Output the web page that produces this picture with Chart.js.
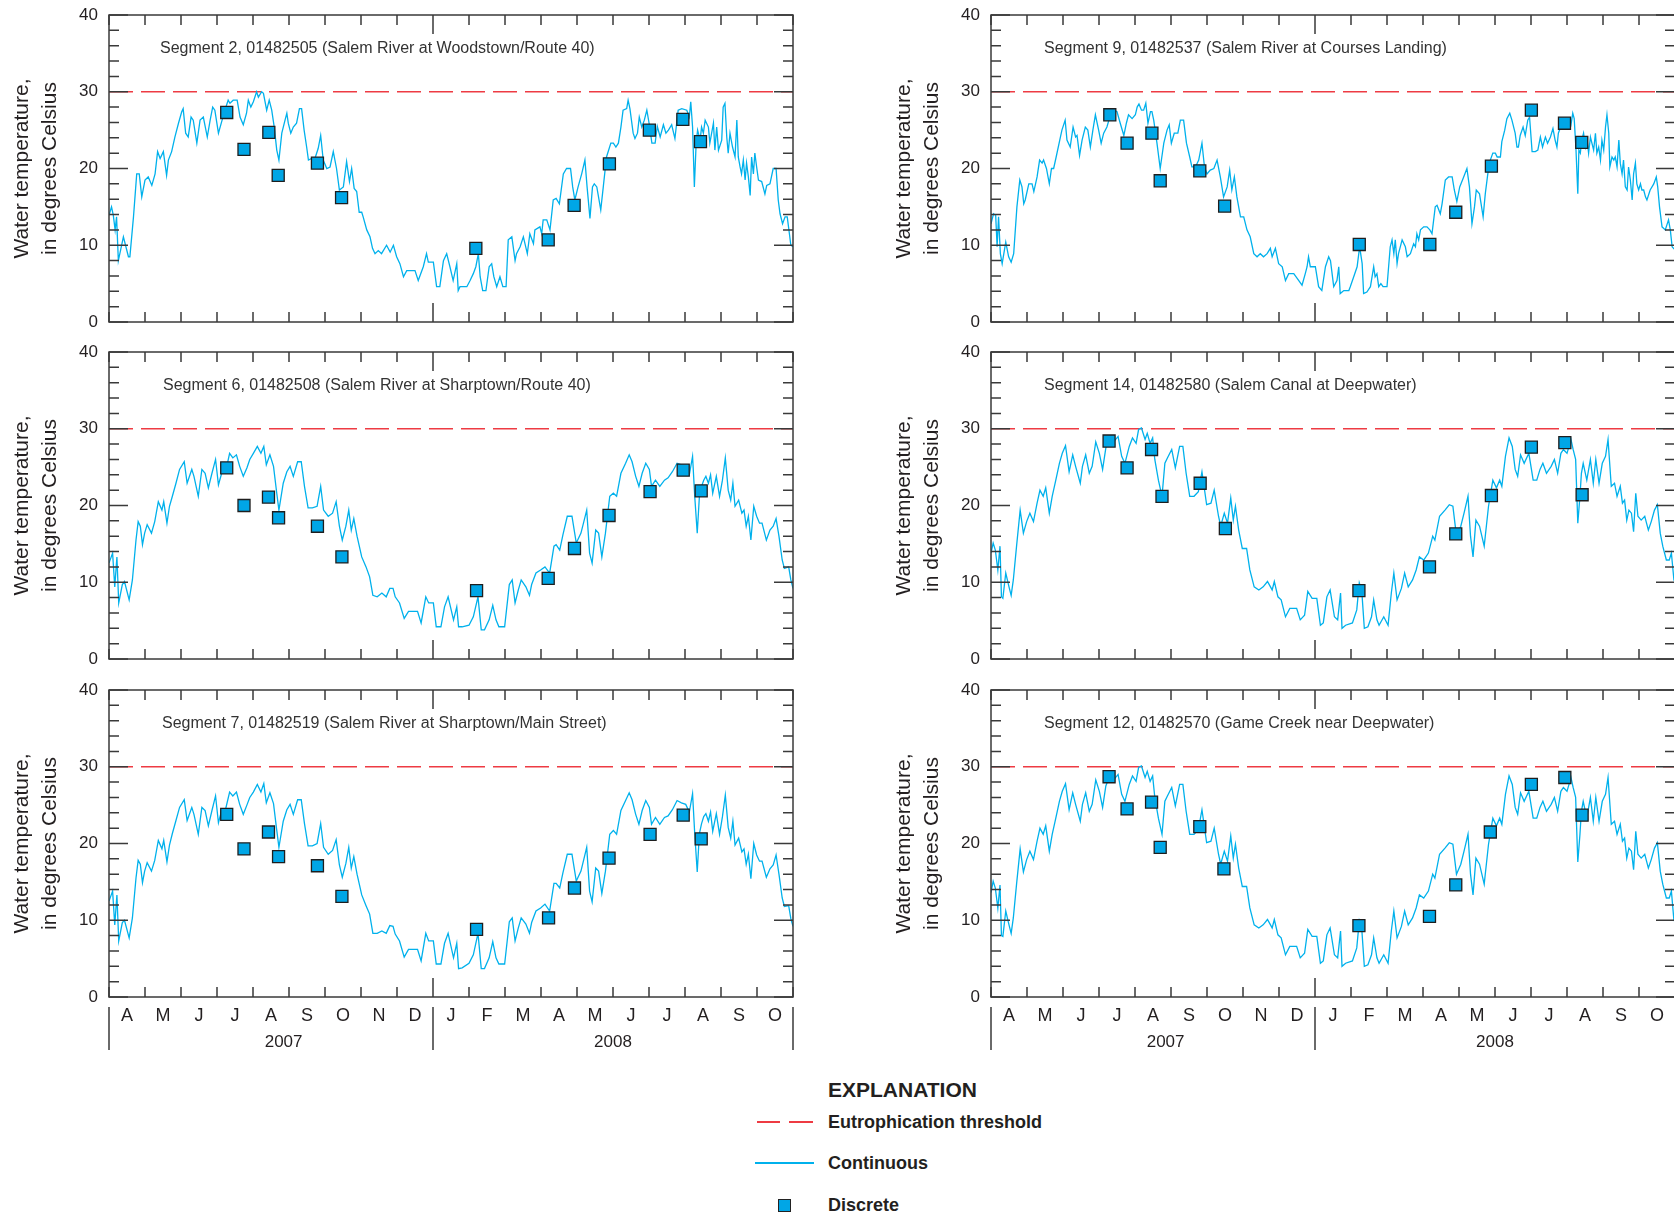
<!DOCTYPE html>
<html>
<head>
<meta charset="utf-8">
<title>Water temperature, Salem River basin</title>
<script src="https://cdn.jsdelivr.net/npm/chart.js@4/dist/chart.umd.min.js"></script>
<style>
  html, body { margin: 0; padding: 0; background: #fff; }
  body { position: relative; width: 1674px; height: 1217px; overflow: hidden; }
  canvas { position: absolute; }
  .lg { position: absolute; font-family: "Liberation Sans", Arial, sans-serif; font-weight: bold;
        color: #231f20; white-space: nowrap; height: 30px; line-height: 30px; }
  .sw { position: absolute; }
</style>
</head>
<body>
<div class="lg" style="left:828px; top:1075px; font-size:21px;">EXPLANATION</div>
<div class="sw" style="left:757px; top:1121px; width:23px; height:1.5px; background:#ee3b43;"></div>
<div class="sw" style="left:789px; top:1121px; width:24px; height:1.5px; background:#ee3b43;"></div>
<div class="lg" style="left:828px; top:1107px; font-size:18px;">Eutrophication threshold</div>
<div class="sw" style="left:755px; top:1162px; width:59px; height:1.5px; background:#00b1ec;"></div>
<div class="lg" style="left:828px; top:1148px; font-size:18px;">Continuous</div>
<div class="sw" style="left:778px; top:1199px; width:11px; height:11px; background:#00a6e6; border:1px solid #222;"></div>
<div class="lg" style="left:828px; top:1190px; font-size:18px;">Discrete</div>

<script>
// x values are months counted from 1 April 2007 (0) to 1 November 2008 (19)
const monthLabels = ['A','M','J','J','A','S','O','N','D','J','F','M','A','M','J','J','A','S','O'];
const yearLabels = ['2007', '2008'];
const yearCenters = [4.85, 14.0];
const yearBreaks = [0, 9, 19];
const eutrophicationThreshold = 30;

// Continuous record, [month, degrees Celsius]
const seg2Series = [[0,13.9],[0.07,15.0],[0.12,13.9],[0.17,12.0],[0.21,13.7],[0.26,8.0],[0.40,11.1],[0.54,8.5],[0.58,8.5],[0.68,13.7],[0.77,19.3],[0.84,19.3],[0.91,16.3],[1.00,18.5],[1.09,18.9],[1.19,17.8],[1.28,19.3],[1.35,22.2],[1.42,21.3],[1.51,22.2],[1.60,19.1],[1.65,21.1],[1.74,22.2],[1.83,24.1],[1.93,25.9],[2.02,27.4],[2.06,27.8],[2.13,24.6],[2.20,24.1],[2.28,26.7],[2.34,26.3],[2.44,23.3],[2.53,26.3],[2.62,26.7],[2.73,24.1],[2.81,26.3],[2.88,28.0],[2.94,27.6],[3.04,24.6],[3.13,26.1],[3.22,27.6],[3.31,28.9],[3.36,28.5],[3.45,28.9],[3.56,28.9],[3.64,26.7],[3.73,25.7],[3.82,27.2],[3.87,28.9],[3.94,28.0],[4.01,28.7],[4.10,30.0],[4.15,29.3],[4.24,30.0],[4.29,29.8],[4.38,27.6],[4.45,28.9],[4.52,27.6],[4.59,25.4],[4.66,22.4],[4.72,21.1],[4.80,24.6],[4.89,26.3],[4.94,27.2],[4.98,25.9],[5.05,24.6],[5.12,25.4],[5.21,25.9],[5.29,27.8],[5.35,27.8],[5.42,25.0],[5.49,22.8],[5.54,21.1],[5.63,21.3],[5.72,21.3],[5.81,22.6],[5.88,24.3],[5.95,21.1],[6.05,20.0],[6.14,20.2],[6.23,22.2],[6.32,20.0],[6.40,17.2],[6.51,17.6],[6.60,20.9],[6.68,18.3],[6.74,20.0],[6.81,17.4],[6.88,17.0],[6.95,14.3],[7.02,14.3],[7.06,13.7],[7.16,12.0],[7.25,11.1],[7.32,9.6],[7.39,8.9],[7.48,9.3],[7.57,8.9],[7.71,10.0],[7.81,9.1],[7.90,10.0],[7.99,8.5],[8.08,7.6],[8.18,5.9],[8.27,6.7],[8.50,6.7],[8.59,5.4],[8.73,7.2],[8.82,8.9],[8.87,7.8],[9.01,7.8],[9.10,4.6],[9.19,4.6],[9.29,8.0],[9.38,8.9],[9.47,7.2],[9.56,5.4],[9.66,7.6],[9.70,4.1],[9.75,4.6],[9.94,4.6],[10.03,5.4],[10.12,6.3],[10.19,7.2],[10.26,8.9],[10.31,5.9],[10.38,4.1],[10.47,4.1],[10.56,7.2],[10.63,7.6],[10.69,5.9],[10.77,4.6],[10.86,5.9],[10.94,4.6],[11.03,4.6],[11.09,10.7],[11.19,11.1],[11.28,8.0],[11.32,8.9],[11.42,9.8],[11.51,11.1],[11.62,8.9],[11.69,11.5],[11.79,10.2],[11.83,12.0],[11.97,12.4],[12.02,11.5],[12.06,13.3],[12.16,13.3],[12.25,12.0],[12.34,15.9],[12.42,16.1],[12.51,15.4],[12.62,19.3],[12.71,20.0],[12.82,20.0],[12.88,17.6],[12.94,15.9],[13.03,17.6],[13.13,19.3],[13.22,21.1],[13.28,17.6],[13.36,13.5],[13.43,17.6],[13.48,18.0],[13.55,17.6],[13.66,14.6],[13.73,17.6],[13.82,21.5],[13.94,23.3],[14.01,23.3],[14.08,22.8],[14.15,23.3],[14.22,25.4],[14.28,27.6],[14.38,27.8],[14.42,28.9],[14.47,27.8],[14.56,24.6],[14.61,23.9],[14.68,24.6],[14.73,26.7],[14.80,25.4],[14.87,26.3],[14.94,27.6],[15.01,25.7],[15.08,23.3],[15.17,23.3],[15.23,25.5],[15.31,24.1],[15.40,25.7],[15.47,24.6],[15.54,25.0],[15.63,25.7],[15.72,23.9],[15.81,27.6],[15.91,27.8],[16.05,27.6],[16.12,26.7],[16.16,28.7],[16.21,25.4],[16.26,17.6],[16.31,23.3],[16.35,25.0],[16.42,23.7],[16.46,25.4],[16.51,24.6],[16.56,26.3],[16.65,25.4],[16.69,23.3],[16.79,25.9],[16.83,22.4],[16.88,25.4],[16.93,22.4],[17.02,23.7],[17.06,28.0],[17.11,28.5],[17.16,24.1],[17.20,22.0],[17.25,24.6],[17.32,22.8],[17.39,21.5],[17.44,26.3],[17.48,21.5],[17.53,20.2],[17.57,19.3],[17.62,21.1],[17.67,18.5],[17.71,20.7],[17.76,18.9],[17.81,16.5],[17.85,21.5],[17.90,19.3],[17.94,22.0],[17.99,20.2],[18.04,18.5],[18.13,18.3],[18.22,16.7],[18.27,17.8],[18.36,18.0],[18.45,20.0],[18.53,20.0],[18.59,15.9],[18.64,14.1],[18.71,12.8],[18.78,13.7],[18.84,13.7],[18.90,11.5],[18.94,10.0],[19.0,9.8]];

const seg9Series = [[0,12.8],[0.07,14.1],[0.13,13.9],[0.17,9.8],[0.21,13.7],[0.26,8.9],[0.31,7.6],[0.41,10.4],[0.49,8.5],[0.56,7.8],[0.63,8.9],[0.72,15.0],[0.80,18.5],[0.86,17.6],[0.91,15.4],[0.95,15.9],[1.05,18.0],[1.14,18.0],[1.19,17.0],[1.28,18.9],[1.35,21.1],[1.42,20.7],[1.46,21.1],[1.54,20.0],[1.62,18.0],[1.68,20.0],[1.74,20.0],[1.81,21.5],[1.91,23.7],[1.97,25.0],[2.06,26.3],[2.11,23.7],[2.20,22.8],[2.28,25.4],[2.35,24.1],[2.39,24.3],[2.46,21.7],[2.53,23.7],[2.62,25.4],[2.69,25.0],[2.76,22.8],[2.83,25.0],[2.90,27.0],[2.99,25.0],[3.06,23.3],[3.13,24.6],[3.22,25.4],[3.30,26.7],[3.41,27.6],[3.50,27.4],[3.59,25.9],[3.69,24.3],[3.76,25.9],[3.82,27.0],[3.92,26.5],[4.01,27.0],[4.06,28.0],[4.11,28.4],[4.18,27.6],[4.24,27.6],[4.30,28.5],[4.36,25.9],[4.43,27.4],[4.47,27.4],[4.52,26.3],[4.61,23.3],[4.70,20.0],[4.80,23.3],[4.89,25.0],[4.95,25.7],[5.01,23.3],[5.09,24.6],[5.19,24.6],[5.26,26.3],[5.35,26.3],[5.43,23.3],[5.52,21.5],[5.58,20.2],[5.68,20.2],[5.77,21.1],[5.86,23.3],[5.93,20.2],[6.00,19.3],[6.09,19.8],[6.19,20.0],[6.28,21.1],[6.37,18.9],[6.46,16.3],[6.56,17.6],[6.63,19.8],[6.69,17.2],[6.76,18.9],[6.83,16.3],[6.93,13.7],[7.02,13.7],[7.11,12.0],[7.20,11.1],[7.30,8.9],[7.39,8.5],[7.48,8.9],[7.57,8.5],[7.67,8.9],[7.76,9.6],[7.81,8.5],[7.90,9.6],[7.99,7.6],[8.09,7.2],[8.18,5.4],[8.27,6.3],[8.41,6.3],[8.55,5.4],[8.64,4.8],[8.73,6.3],[8.78,7.2],[8.82,8.5],[8.87,7.2],[9.01,7.2],[9.10,4.6],[9.19,4.1],[9.29,7.2],[9.38,8.5],[9.43,8.0],[9.52,4.6],[9.61,5.4],[9.66,7.2],[9.70,3.7],[9.80,4.1],[9.94,4.1],[9.98,4.6],[10.09,6.1],[10.17,7.2],[10.24,9.8],[10.31,7.6],[10.35,3.7],[10.44,3.9],[10.54,4.6],[10.63,7.2],[10.67,5.9],[10.72,6.3],[10.77,4.6],[10.83,5.0],[10.89,4.6],[11.00,4.6],[11.09,9.8],[11.14,10.7],[11.19,8.9],[11.23,10.7],[11.28,7.6],[11.32,8.9],[11.42,10.7],[11.51,9.8],[11.56,8.5],[11.65,8.9],[11.74,10.2],[11.79,9.8],[11.83,11.5],[11.88,10.7],[11.93,12.0],[12.02,12.4],[12.11,12.4],[12.19,12.0],[12.25,11.5],[12.34,15.0],[12.39,15.2],[12.48,14.1],[12.53,15.4],[12.62,18.5],[12.71,18.9],[12.81,18.9],[12.87,17.2],[12.94,15.7],[13.02,17.6],[13.13,18.9],[13.22,20.0],[13.29,17.6],[13.36,12.8],[13.43,15.0],[13.48,17.2],[13.57,16.7],[13.67,13.7],[13.73,16.7],[13.80,19.3],[13.87,21.1],[13.94,22.0],[14.01,22.0],[14.06,21.5],[14.15,21.5],[14.19,23.5],[14.27,25.0],[14.33,26.5],[14.41,27.2],[14.47,26.3],[14.56,24.6],[14.61,22.8],[14.65,22.8],[14.70,24.3],[14.78,25.4],[14.84,24.3],[14.91,26.3],[14.96,26.7],[15.03,22.2],[15.12,22.2],[15.19,22.4],[15.26,24.1],[15.32,22.8],[15.40,24.1],[15.46,23.3],[15.54,24.1],[15.61,25.2],[15.67,23.7],[15.72,22.8],[15.76,24.6],[15.86,25.9],[15.95,26.5],[16.05,26.3],[16.11,25.7],[16.16,27.2],[16.20,26.5],[16.25,22.4],[16.30,16.7],[16.33,22.4],[16.37,22.0],[16.41,23.7],[16.46,24.6],[16.51,22.8],[16.56,23.7],[16.60,22.0],[16.65,24.1],[16.74,22.4],[16.79,24.6],[16.83,22.0],[16.88,22.8],[16.93,21.1],[16.97,23.7],[17.02,22.4],[17.07,25.4],[17.11,27.0],[17.16,24.6],[17.19,20.2],[17.25,21.5],[17.30,21.1],[17.34,21.5],[17.39,20.2],[17.44,23.7],[17.48,20.7],[17.53,19.3],[17.57,21.1],[17.62,17.6],[17.67,17.2],[17.71,20.2],[17.76,18.5],[17.81,15.9],[17.85,19.3],[17.90,20.7],[17.94,18.0],[17.99,17.2],[18.04,18.0],[18.08,17.2],[18.13,17.2],[18.18,16.3],[18.22,15.9],[18.31,17.2],[18.41,18.0],[18.48,18.9],[18.52,17.6],[18.57,15.0],[18.64,12.4],[18.73,12.0],[18.82,13.3],[18.87,12.0],[18.92,9.8],[18.96,9.6],[19.0,9.4]];

const seg6Series = [[0,12.5],[0.10,13.8],[0.16,9.4],[0.22,13.3],[0.27,7.3],[0.37,9.7],[0.43,10.1],[0.56,7.7],[0.65,10.3],[0.75,15.5],[0.81,17.9],[0.87,17.3],[0.93,14.9],[0.99,16.4],[1.06,17.5],[1.18,16.4],[1.27,17.9],[1.37,20.5],[1.47,19.4],[1.52,20.5],[1.61,17.7],[1.68,19.9],[1.76,21.2],[1.86,22.9],[1.96,24.7],[2.09,25.7],[2.17,22.9],[2.30,24.7],[2.36,23.8],[2.48,21.2],[2.58,24.7],[2.67,24.2],[2.76,22.3],[2.86,24.2],[2.96,26.0],[3.04,22.7],[3.13,24.2],[3.23,24.2],[3.35,26.8],[3.44,26.2],[3.54,26.6],[3.63,25.1],[3.73,23.8],[3.83,24.9],[3.91,26.0],[4.01,26.8],[4.12,27.7],[4.22,26.8],[4.30,27.7],[4.37,25.3],[4.47,26.6],[4.57,25.1],[4.66,21.6],[4.72,19.4],[4.84,22.9],[4.94,24.4],[5.03,25.1],[5.12,23.8],[5.24,25.7],[5.34,25.7],[5.43,22.5],[5.53,19.7],[5.65,19.7],[5.78,19.9],[5.88,22.5],[5.96,19.4],[6.09,18.6],[6.21,19.0],[6.31,20.5],[6.40,17.3],[6.48,15.5],[6.58,17.3],[6.66,19.4],[6.73,16.8],[6.80,18.3],[6.89,16.0],[7.02,13.3],[7.14,12.0],[7.24,10.7],[7.33,8.3],[7.45,8.1],[7.58,8.6],[7.70,8.1],[7.80,9.2],[7.89,9.2],[7.95,8.1],[8.07,7.3],[8.20,5.3],[8.32,6.2],[8.57,6.2],[8.67,4.7],[8.80,8.1],[8.88,7.3],[9.01,7.3],[9.09,4.2],[9.22,4.2],[9.32,6.8],[9.42,8.1],[9.57,5.1],[9.66,6.8],[9.71,4.2],[9.81,4.2],[10.00,4.4],[10.12,5.5],[10.25,8.1],[10.34,3.8],[10.43,3.8],[10.56,5.1],[10.66,7.0],[10.75,5.1],[10.83,4.2],[10.99,4.2],[11.12,9.7],[11.20,10.3],[11.28,7.3],[11.37,9.0],[11.45,10.3],[11.58,9.4],[11.68,8.3],[11.74,9.7],[11.86,11.2],[11.99,11.6],[12.11,12.0],[12.24,11.2],[12.36,14.7],[12.42,14.9],[12.52,14.2],[12.61,16.2],[12.73,18.6],[12.86,18.6],[12.98,15.1],[13.11,16.4],[13.27,19.4],[13.35,13.8],[13.42,12.5],[13.52,16.8],[13.60,16.4],[13.69,13.3],[13.79,16.4],[13.91,21.2],[14.01,21.6],[14.10,21.2],[14.22,24.2],[14.35,25.5],[14.45,26.6],[14.53,25.7],[14.63,23.8],[14.72,22.5],[14.81,24.2],[14.91,25.5],[15.01,24.7],[15.07,22.5],[15.18,23.3],[15.30,22.5],[15.43,23.3],[15.53,23.6],[15.65,24.4],[15.78,25.5],[15.90,25.3],[16.02,25.1],[16.12,24.0],[16.21,26.4],[16.27,21.2],[16.34,16.4],[16.40,21.2],[16.46,22.5],[16.52,23.3],[16.58,23.8],[16.65,22.9],[16.71,24.0],[16.77,21.6],[16.87,23.8],[16.96,21.2],[17.04,23.3],[17.12,26.2],[17.20,22.0],[17.27,20.7],[17.33,22.9],[17.39,19.9],[17.49,20.7],[17.58,19.0],[17.64,19.4],[17.70,17.3],[17.76,18.6],[17.83,15.5],[17.91,19.9],[17.99,18.6],[18.07,17.7],[18.14,17.7],[18.26,15.5],[18.36,16.8],[18.45,17.3],[18.53,18.3],[18.61,16.0],[18.70,12.9],[18.76,11.8],[18.88,12.0],[18.94,10.3],[19.0,9.2]];

const seg14Series = [[0,13.8],[0.06,15.1],[0.12,14.2],[0.19,11.6],[0.25,14.7],[0.29,8.1],[0.33,7.9],[0.41,11.2],[0.50,9.4],[0.56,8.3],[0.62,10.3],[0.71,14.7],[0.81,19.4],[0.90,16.4],[0.99,17.9],[1.08,19.0],[1.18,17.9],[1.28,20.3],[1.36,22.0],[1.45,21.2],[1.52,22.3],[1.62,19.0],[1.70,21.2],[1.80,23.3],[1.90,25.5],[1.98,26.8],[2.07,27.8],[2.17,24.4],[2.27,26.6],[2.35,25.1],[2.48,22.9],[2.54,25.1],[2.63,26.6],[2.73,24.2],[2.81,25.1],[2.91,28.3],[3.01,26.8],[3.10,24.7],[3.19,27.5],[3.28,28.6],[3.41,28.3],[3.53,29.0],[3.63,26.4],[3.72,25.5],[3.84,27.7],[3.93,28.8],[4.03,28.1],[4.10,29.9],[4.18,30.1],[4.28,28.6],[4.34,29.4],[4.42,28.1],[4.49,28.8],[4.55,26.0],[4.65,23.3],[4.75,21.2],[4.83,25.5],[4.90,26.2],[5.02,27.3],[5.12,24.9],[5.24,27.7],[5.33,27.7],[5.42,24.2],[5.52,21.2],[5.64,21.2],[5.76,21.8],[5.86,24.4],[5.99,20.1],[6.11,20.3],[6.20,22.0],[6.32,18.6],[6.38,17.3],[6.48,19.0],[6.57,17.7],[6.66,21.0],[6.73,18.1],[6.79,19.9],[6.88,16.8],[6.98,14.4],[7.10,14.4],[7.19,11.6],[7.31,9.4],[7.44,9.0],[7.56,9.4],[7.68,10.1],[7.81,9.0],[7.87,10.1],[7.97,8.1],[8.06,7.7],[8.18,5.5],[8.30,6.6],[8.49,6.6],[8.59,5.1],[8.71,5.7],[8.80,8.8],[8.92,7.9],[9.05,7.9],[9.15,4.4],[9.23,4.7],[9.33,8.1],[9.42,9.0],[9.54,5.5],[9.63,5.1],[9.71,8.6],[9.75,4.0],[9.85,4.4],[10.04,4.7],[10.16,6.4],[10.23,9.9],[10.30,8.8],[10.37,4.0],[10.47,4.2],[10.57,5.5],[10.63,7.7],[10.72,5.1],[10.78,4.4],[10.91,5.5],[11.03,4.4],[11.12,8.6],[11.19,11.2],[11.28,7.7],[11.40,9.2],[11.49,11.2],[11.59,9.4],[11.71,10.3],[11.81,11.6],[11.90,13.3],[12.02,12.9],[12.15,13.8],[12.27,16.0],[12.33,15.5],[12.46,18.6],[12.61,19.4],[12.73,20.1],[12.83,19.9],[12.93,16.0],[13.05,17.3],[13.14,19.0],[13.25,21.2],[13.32,16.0],[13.39,13.3],[13.47,18.1],[13.57,17.3],[13.70,14.7],[13.82,19.9],[13.94,23.3],[14.04,22.3],[14.13,23.3],[14.19,22.5],[14.29,26.4],[14.39,28.8],[14.48,27.7],[14.56,24.7],[14.63,23.8],[14.71,26.6],[14.81,25.5],[14.94,26.8],[15.06,23.3],[15.16,23.3],[15.25,24.7],[15.33,25.5],[15.43,24.2],[15.56,25.1],[15.65,26.0],[15.74,24.2],[15.83,26.8],[15.90,27.3],[16.00,26.8],[16.11,28.6],[16.17,27.3],[16.24,26.0],[16.30,17.7],[16.36,21.2],[16.40,24.2],[16.45,25.5],[16.55,23.3],[16.65,26.0],[16.73,22.9],[16.80,26.0],[16.89,22.9],[16.98,25.5],[17.07,26.4],[17.14,28.6],[17.23,22.5],[17.32,22.9],[17.39,21.2],[17.48,22.5],[17.54,20.3],[17.60,20.7],[17.66,18.1],[17.72,19.4],[17.79,19.0],[17.85,16.6],[17.91,21.6],[17.97,18.6],[18.06,18.1],[18.16,18.6],[18.26,16.8],[18.34,17.9],[18.43,19.4],[18.51,20.1],[18.59,16.4],[18.66,14.7],[18.76,12.9],[18.84,12.9],[18.90,13.8],[18.97,10.3],[19.0,10.0]];

const seg7Series = [[0,12.5],[0.10,13.8],[0.16,9.4],[0.22,13.3],[0.27,7.3],[0.37,9.7],[0.43,10.0],[0.56,7.7],[0.65,10.3],[0.75,15.5],[0.81,17.8],[0.87,17.3],[0.93,14.9],[0.99,16.4],[1.06,17.5],[1.18,16.4],[1.27,17.8],[1.37,20.4],[1.47,19.3],[1.52,20.4],[1.61,17.6],[1.68,19.8],[1.76,21.3],[1.86,23.0],[1.96,24.7],[2.09,25.7],[2.17,23.0],[2.30,24.7],[2.36,23.8],[2.48,21.2],[2.58,24.7],[2.67,24.3],[2.76,22.3],[2.86,24.3],[2.96,26.2],[3.04,22.7],[3.13,24.3],[3.23,24.3],[3.35,26.7],[3.44,26.2],[3.54,26.7],[3.63,25.1],[3.73,23.8],[3.83,25.0],[3.91,26.0],[4.01,26.7],[4.12,27.7],[4.22,26.7],[4.30,27.8],[4.37,25.3],[4.47,26.6],[4.57,25.2],[4.66,21.7],[4.72,19.5],[4.84,22.9],[4.94,24.4],[5.03,25.1],[5.12,23.8],[5.24,25.7],[5.34,25.7],[5.43,22.6],[5.53,19.7],[5.65,19.7],[5.78,20.0],[5.88,22.6],[5.96,19.5],[6.09,18.6],[6.21,19.1],[6.31,20.5],[6.40,17.2],[6.48,15.6],[6.58,17.4],[6.66,19.5],[6.73,16.8],[6.80,18.3],[6.89,16.0],[7.02,13.3],[7.14,11.9],[7.24,10.8],[7.33,8.3],[7.45,8.3],[7.58,8.6],[7.70,8.3],[7.80,9.3],[7.89,9.2],[7.95,8.2],[8.07,7.3],[8.20,5.2],[8.32,6.2],[8.57,6.2],[8.67,4.7],[8.80,8.3],[8.88,7.3],[9.01,7.3],[9.09,4.3],[9.22,4.3],[9.32,7.0],[9.42,8.3],[9.57,5.1],[9.66,7.0],[9.71,3.7],[9.81,3.8],[10.00,4.4],[10.12,5.5],[10.25,8.3],[10.34,3.7],[10.43,3.7],[10.56,5.1],[10.66,7.2],[10.75,5.1],[10.83,4.3],[10.99,4.3],[11.12,9.8],[11.20,10.3],[11.28,7.3],[11.37,9.0],[11.45,10.3],[11.58,9.5],[11.68,8.3],[11.74,9.7],[11.86,11.2],[11.99,11.6],[12.11,12.1],[12.24,11.2],[12.36,14.8],[12.42,14.8],[12.52,14.2],[12.61,16.2],[12.73,18.6],[12.86,18.6],[12.98,15.1],[13.11,16.4],[13.27,19.5],[13.35,13.8],[13.42,12.4],[13.52,16.8],[13.60,16.4],[13.69,13.5],[13.79,16.4],[13.91,21.2],[14.01,21.7],[14.10,21.2],[14.22,24.3],[14.35,25.6],[14.45,26.6],[14.53,25.7],[14.63,23.8],[14.72,22.5],[14.81,24.3],[14.91,25.6],[15.01,24.7],[15.07,22.5],[15.18,23.4],[15.30,22.5],[15.43,23.4],[15.53,23.6],[15.65,24.4],[15.78,25.6],[15.90,25.3],[16.02,25.1],[16.12,24.1],[16.21,26.5],[16.27,21.3],[16.34,16.3],[16.40,21.3],[16.46,22.6],[16.52,23.5],[16.58,23.9],[16.65,22.9],[16.71,24.1],[16.77,21.6],[16.87,23.9],[16.96,21.2],[17.04,23.5],[17.12,26.3],[17.20,22.1],[17.27,20.7],[17.33,22.9],[17.39,19.8],[17.49,20.7],[17.58,18.9],[17.64,19.3],[17.70,17.3],[17.76,18.6],[17.83,15.4],[17.91,20.0],[17.99,18.5],[18.07,17.7],[18.14,17.7],[18.26,15.6],[18.36,16.7],[18.45,17.2],[18.53,18.5],[18.61,16.0],[18.70,12.9],[18.76,11.8],[18.88,11.9],[18.94,10.2],[19.0,9.2]];

const seg12Series = [[0,13.6],[0.06,15.1],[0.12,14.2],[0.19,11.6],[0.25,14.6],[0.29,8.0],[0.33,7.9],[0.41,11.2],[0.50,9.4],[0.56,8.3],[0.62,10.3],[0.71,14.7],[0.81,19.3],[0.90,16.3],[0.99,17.9],[1.08,19.0],[1.18,17.9],[1.28,20.3],[1.36,22.0],[1.45,21.2],[1.52,22.3],[1.62,19.0],[1.70,21.2],[1.80,23.3],[1.90,25.5],[1.98,26.8],[2.07,27.8],[2.17,24.4],[2.27,26.6],[2.35,25.1],[2.48,22.9],[2.54,25.1],[2.63,26.6],[2.73,24.2],[2.81,25.1],[2.91,28.3],[3.01,26.8],[3.10,24.7],[3.19,27.5],[3.28,28.6],[3.41,28.3],[3.53,29.0],[3.63,26.4],[3.72,25.5],[3.84,27.7],[3.93,28.8],[4.03,28.1],[4.10,29.9],[4.18,30.1],[4.28,28.6],[4.34,29.4],[4.42,28.1],[4.49,28.8],[4.55,26.0],[4.65,23.3],[4.75,21.2],[4.83,25.5],[4.90,26.2],[5.02,27.3],[5.12,24.9],[5.24,27.7],[5.33,27.7],[5.42,24.2],[5.52,21.2],[5.64,21.2],[5.76,21.8],[5.86,24.4],[5.99,20.1],[6.11,20.3],[6.20,22.0],[6.32,18.6],[6.38,17.3],[6.48,19.0],[6.57,17.7],[6.66,21.0],[6.73,18.1],[6.79,19.9],[6.88,16.8],[6.98,14.4],[7.10,14.4],[7.19,11.6],[7.31,9.4],[7.44,9.0],[7.56,9.4],[7.68,10.1],[7.81,9.0],[7.87,10.1],[7.97,8.1],[8.06,7.7],[8.18,5.5],[8.30,6.6],[8.49,6.6],[8.59,5.1],[8.71,5.7],[8.80,8.8],[8.92,7.9],[9.05,7.9],[9.15,4.4],[9.23,4.7],[9.33,8.1],[9.42,9.0],[9.54,5.5],[9.63,5.1],[9.71,8.6],[9.75,4.0],[9.85,4.4],[10.04,4.7],[10.16,6.4],[10.23,9.9],[10.30,8.8],[10.37,4.0],[10.47,4.2],[10.57,5.5],[10.63,7.7],[10.72,5.1],[10.78,4.4],[10.91,5.5],[11.03,4.4],[11.12,8.6],[11.19,11.2],[11.28,7.7],[11.40,9.2],[11.49,11.2],[11.59,9.4],[11.71,10.3],[11.81,11.6],[11.90,13.3],[12.02,12.9],[12.15,13.8],[12.27,16.0],[12.33,15.5],[12.46,18.6],[12.61,19.4],[12.73,20.1],[12.83,19.9],[12.93,16.0],[13.05,17.3],[13.14,19.0],[13.25,21.2],[13.32,16.0],[13.39,13.3],[13.47,18.1],[13.57,17.3],[13.70,14.7],[13.82,19.9],[13.94,23.3],[14.04,22.3],[14.13,23.3],[14.19,22.5],[14.29,26.4],[14.39,28.8],[14.48,27.7],[14.56,24.7],[14.63,23.8],[14.71,26.6],[14.81,25.5],[14.94,26.8],[15.06,23.3],[15.16,23.3],[15.25,24.7],[15.33,25.5],[15.43,24.2],[15.56,25.1],[15.65,26.0],[15.74,24.2],[15.83,26.8],[15.90,27.3],[16.00,26.8],[16.11,28.6],[16.17,27.3],[16.24,26.0],[16.30,17.6],[16.36,21.2],[16.40,24.2],[16.45,25.5],[16.55,23.3],[16.65,26.0],[16.73,22.9],[16.80,26.0],[16.89,22.9],[16.98,25.5],[17.07,26.4],[17.14,28.6],[17.23,22.5],[17.32,22.9],[17.39,21.2],[17.48,22.5],[17.54,20.3],[17.60,20.7],[17.66,18.1],[17.72,19.4],[17.79,19.0],[17.85,16.6],[17.91,21.6],[17.97,18.6],[18.06,18.1],[18.16,18.6],[18.26,16.8],[18.34,17.9],[18.43,19.4],[18.51,20.1],[18.59,16.4],[18.66,14.7],[18.76,12.9],[18.84,12.9],[18.90,13.8],[18.97,10.0],[19.0,9.8]];

// Discrete samples, [month, degrees Celsius]
const seg2Discrete  = [[3.27,27.3],[3.75,22.5],[4.44,24.7],[4.70,19.1],[5.79,20.7],[6.46,16.2],[10.19,9.6],[12.20,10.7],[12.92,15.2],[13.90,20.6],[15.01,25.0],[15.94,26.4],[16.43,23.5]];
const seg9Discrete  = [[3.30,27.0],[3.78,23.3],[4.47,24.6],[4.70,18.4],[5.80,19.7],[6.49,15.1],[10.23,10.1],[12.19,10.1],[12.91,14.3],[13.90,20.3],[15.01,27.6],[15.93,25.9],[16.41,23.4]];
const seg6Discrete  = [[3.27,24.9],[3.75,20.0],[4.43,21.1],[4.71,18.4],[5.79,17.3],[6.47,13.3],[10.21,8.9],[12.20,10.5],[12.93,14.4],[13.89,18.7],[15.03,21.8],[15.95,24.6],[16.45,21.9]];
const seg14Discrete = [[3.28,28.4],[3.78,24.9],[4.46,27.3],[4.75,21.2],[5.81,22.9],[6.51,17.0],[10.22,8.9],[12.18,12.0],[12.91,16.3],[13.90,21.3],[15.01,27.6],[15.94,28.2],[16.42,21.4]];
const seg7Discrete  = [[3.27,23.8],[3.75,19.3],[4.43,21.5],[4.71,18.3],[5.79,17.1],[6.47,13.1],[10.21,8.8],[12.21,10.3],[12.93,14.2],[13.89,18.1],[15.03,21.2],[15.95,23.7],[16.45,20.6]];
const seg12Discrete = [[3.28,28.7],[3.78,24.5],[4.46,25.4],[4.70,19.5],[5.80,22.2],[6.47,16.7],[10.22,9.3],[12.18,10.5],[12.91,14.6],[13.87,21.5],[15.01,27.7],[15.94,28.6],[16.42,23.7]];

const FONT = '"Liberation Sans", Arial, sans-serif';
const TEXT_COLOR = '#231f20';
const AXIS_COLOR = '#3a3a3a';
const RED = '#ee3b43';
const CYAN = '#00b1ec';
const MARKER = '#00a6e6';

const panels = [
  { title: 'Segment 2, 01482505 (Salem River at Woodstown/Route 40)', series: seg2Series, discrete: seg2Discrete, col: 0, row: 0, dx: 51 },
  { title: 'Segment 9, 01482537 (Salem River at Courses Landing)', series: seg9Series, discrete: seg9Discrete, col: 1, row: 0, dx: 53 },
  { title: 'Segment 6, 01482508 (Salem River at Sharptown/Route 40)', series: seg6Series, discrete: seg6Discrete, col: 0, row: 1, dx: 54 },
  { title: 'Segment 14, 01482580 (Salem Canal at Deepwater)', series: seg14Series, discrete: seg14Discrete, col: 1, row: 1, dx: 53 },
  { title: 'Segment 7, 01482519 (Salem River at Sharptown/Main Street)', series: seg7Series, discrete: seg7Discrete, col: 0, row: 2, dx: 53 },
  { title: 'Segment 12, 01482570 (Game Creek near Deepwater)', series: seg12Series, discrete: seg12Discrete, col: 1, row: 2, dx: 53 }
];

// Frame, inward tick marks, panel caption and year dividers
const panelFrame = {
  id: 'panelFrame',
  afterDatasetsDraw(chart, args, opts) {
    const { ctx, chartArea: a } = chart;
    const x = chart.scales.x, y = chart.scales.y;
    ctx.save();
    ctx.strokeStyle = AXIS_COLOR;
    ctx.lineWidth = 1.5;
    ctx.beginPath();
    for (let v = 0; v <= 40; v += 2) {
      const py = y.getPixelForValue(v);
      const len = v % 10 === 0 ? 19 : 10;
      ctx.moveTo(a.left, py); ctx.lineTo(a.left + len, py);
      ctx.moveTo(a.right, py); ctx.lineTo(a.right - len, py);
    }
    for (let m = 0; m <= 19; m++) {
      const px = x.getPixelForValue(m);
      const len = m === 9 ? 19 : 10;
      ctx.moveTo(px, a.top); ctx.lineTo(px, a.top + len);
      ctx.moveTo(px, a.bottom); ctx.lineTo(px, a.bottom - len);
    }
    if (opts.yearRule) {
      for (const m of yearBreaks) {
        const px = x.getPixelForValue(m);
        ctx.moveTo(px, a.bottom + 10); ctx.lineTo(px, a.bottom + 53);
      }
    }
    ctx.stroke();
    ctx.strokeRect(a.left, a.top, a.right - a.left, a.bottom - a.top);
    ctx.fillStyle = '#333333';
    ctx.font = '16px ' + FONT;
    ctx.textBaseline = 'middle';
    ctx.textAlign = 'left';
    ctx.fillText(opts.title, a.left + opts.dx, a.top + 34);
    ctx.restore();
  }
};

// the plot frame is fixed by the layout padding, not by label overhang
const noOverhang = s => { s.paddingTop = 0; s.paddingBottom = 0; s.paddingLeft = 0; s.paddingRight = 0; };

const canvasTops = [0, 337, 675];
const canvasLefts = [0, 882];

panels.forEach(p => {
  const bottomRow = p.row === 2;
  const cv = document.createElement('canvas');
  cv.width = 800;
  cv.height = bottomRow ? 392 : 337;
  cv.style.left = canvasLefts[p.col] + 'px';
  cv.style.top = canvasTops[p.row] + 'px';
  cv.style.width = cv.width + 'px';
  cv.style.height = cv.height + 'px';
  document.body.appendChild(cv);

  const scales = {
    x: {
      type: 'linear', position: 'bottom', min: 0, max: 19,
      grid: { display: false, drawTicks: false }, border: { display: false },
      afterBuildTicks: s => { s.ticks = monthLabels.map((_, i) => ({ value: i + 0.5 })); },
      ticks: { display: bottomRow, autoSkip: false, maxRotation: 0, padding: 8,
               color: TEXT_COLOR, font: { family: FONT, size: 18 },
               callback: (v, i) => monthLabels[i] },
      afterFit: s => { noOverhang(s); s.height = bottomRow ? 30 : 15; }
    },
    y: {
      type: 'linear', position: 'left', min: 0, max: 40,
      grid: { display: false, drawTicks: false }, border: { display: false },
      ticks: { stepSize: 10, padding: 11, color: TEXT_COLOR, font: { family: FONT, size: 17 } },
      title: { display: true, text: ['Water temperature,', 'in degrees Celsius'],
               color: TEXT_COLOR, font: { family: FONT, size: 21, lineHeight: 1.333 },
               padding: { top: 8, bottom: 0 } },
      afterFit: s => { noOverhang(s); s.width = 109; }
    }
  };
  if (bottomRow) {
    scales.years = {
      axis: 'x', type: 'linear', position: 'bottom', min: 0, max: 19,
      grid: { display: false, drawTicks: false }, border: { display: false },
      afterBuildTicks: s => { s.ticks = yearCenters.map(v => ({ value: v })); },
      ticks: { autoSkip: false, maxRotation: 0, padding: 5, color: TEXT_COLOR,
               font: { family: FONT, size: 17 }, callback: (v, i) => yearLabels[i] },
      afterFit: s => { noOverhang(s); s.height = 40; }
    };
  }

  new Chart(cv, {
    type: 'line',
    data: {
      datasets: [
        { label: 'Discrete', data: p.discrete, showLine: false, order: 0,
          pointStyle: 'rect', pointRadius: 8.5, pointBackgroundColor: MARKER,
          pointBorderColor: '#1e1e1e', pointBorderWidth: 1.3 },
        { label: 'Continuous', data: p.series, order: 1, borderColor: CYAN,
          borderWidth: 1.3, pointRadius: 0, tension: 0, fill: false },
        { label: 'Eutrophication threshold', order: 2,
          data: [[0, eutrophicationThreshold], [19, eutrophicationThreshold]],
          borderColor: RED, borderWidth: 1.4, borderDash: [24, 8], pointRadius: 0, fill: false }
      ]
    },
    options: {
      responsive: false,
      animation: false,
      devicePixelRatio: 1,
      events: [],
      layout: { autoPadding: false, padding: { top: 15, right: 7, bottom: 0, left: 0 } },
      plugins: {
        legend: { display: false },
        tooltip: { enabled: false },
        panelFrame: { title: p.title, dx: p.dx, yearRule: bottomRow }
      },
      scales
    },
    plugins: [panelFrame]
  });
});
</script>
</body>
</html>
